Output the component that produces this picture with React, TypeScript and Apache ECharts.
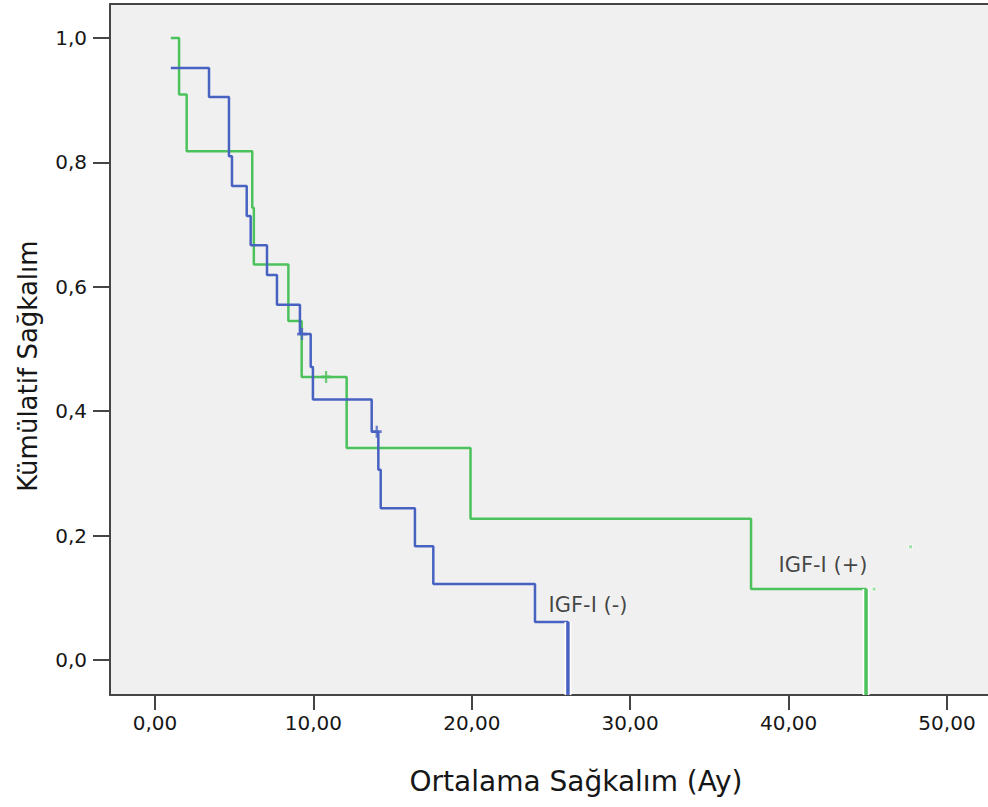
import React, { useEffect, useRef } from "react";
import * as echarts from "echarts";

// IGF-I (-) Kaplan-Meier curve: event times (months) and survival after each event
const blueTimes = [1.0, 3.41, 4.67, 4.86, 5.79, 6.04, 7.07, 7.7, 9.15, 9.83, 9.97, 13.68, 14.1, 14.25, 16.41, 17.57, 23.99, 26.07];
const blueSurv = [0.952, 0.905, 0.81, 0.762, 0.714, 0.667, 0.619, 0.571, 0.524, 0.471, 0.419, 0.367, 0.306, 0.244, 0.183, 0.122, 0.061, 0.0];
const blueCensorT = [9.28, 14.0];
const blueCensorS = [0.524, 0.367];

// IGF-I (+) curve
const greenTimes = [1.0, 1.52, 2.0, 6.14, 6.24, 8.42, 9.26, 12.1, 19.92, 37.63, 44.89];
const greenSurv = [1.0, 0.909, 0.818, 0.727, 0.636, 0.545, 0.455, 0.341, 0.227, 0.114, 0.0];
const greenCensorT = [10.8];
const greenCensorS = [0.455];
const greenDotsT = [45.4, 47.7];
const greenDotsS = [0.114, 0.182];

// curve labels
const labelTexts = ["IGF-I (-)", "IGF-I (+)"];
const labelT = [27.34, 42.17];
const labelS = [0.088, 0.153];

// ticks
const xTicks = [0, 10, 20, 30, 40, 50];
const yTicks = [0, 0.2, 0.4, 0.6, 0.8, 1.0];

const xTitle = "Ortalama Sağkalım (Ay)";
const yTitle = "Kümülatif Sağkalım";

const X_MIN = -2.841;
const X_MAX = 52.59;
const Y_MIN = -0.0563;
const Y_MAX = 1.0547;

const BLUE = "#4862c2";
const GREEN = "#4cc25c";
const AXIS = "#454545";
const TEXT = "#161616";
const FONT = "'DejaVu Sans', Verdana, sans-serif";

function stepData(times: number[], surv: number[]) {
  const d: number[][] = times.map((t, i) => [t, surv[i]]);
  // the final drop runs down to the bottom of the frame
  d[d.length - 1] = [times[times.length - 1], Y_MIN];
  return d;
}

function finalDrop(times: number[], surv: number[]) {
  const n = times.length;
  return [
    [times[n - 1], surv[n - 2]],
    [times[n - 1], Y_MIN],
  ];
}

const plus = "path://M5,0L5,12M0,6L10,6";

export default function App() {
  const ref = useRef<HTMLDivElement>(null);
  useEffect(() => {
    if (!ref.current) return;
    const chart = echarts.init(ref.current, null, { renderer: "svg" });
    const lineBase = { type: "line", showSymbol: false, symbol: "none", silent: true, z: 3 } as any;
    chart.setOption({
      animation: false,
      backgroundColor: "#ffffff",
      grid: {
        left: 110,
        top: 4,
        right: 0,
        bottom: 112,
        show: true,
        backgroundColor: "#f0f0f0",
        borderWidth: 0,
      },
      xAxis: [
        {
          type: "value",
          min: X_MIN,
          max: X_MAX,
          position: "bottom",
          splitLine: { show: false },
          axisLine: { show: true, onZero: false, lineStyle: { color: AXIS, width: 2 } },
          axisTick: { show: true, length: 15, customValues: xTicks, lineStyle: { color: AXIS, width: 2 } },
          axisLabel: {
            customValues: xTicks,
            margin: 18,
            fontFamily: FONT,
            fontSize: 20,
            color: TEXT,
            formatter: (v: number) => v.toFixed(2).replace(".", ","),
          },
        },
        {
          type: "value",
          min: X_MIN,
          max: X_MAX,
          position: "top",
          splitLine: { show: false },
          axisLine: { show: true, onZero: false, lineStyle: { color: AXIS, width: 2 } },
          axisTick: { show: false },
          axisLabel: { show: false },
        },
      ],
      yAxis: {
        type: "value",
        min: Y_MIN,
        max: Y_MAX,
        splitLine: { show: false },
        axisLine: { show: true, onZero: false, lineStyle: { color: AXIS, width: 2 } },
        axisTick: { show: true, length: 17, customValues: yTicks, lineStyle: { color: AXIS, width: 2 } },
        axisLabel: {
          customValues: yTicks,
          margin: 23,
          fontFamily: FONT,
          fontSize: 20,
          color: TEXT,
          formatter: (v: number) => v.toFixed(1).replace(".", ","),
        },
      },
      graphic: [
        {
          type: "text",
          x: 576,
          y: 781,
          style: {
            text: xTitle,
            font: `28px ${FONT}`,
            fill: TEXT,
            align: "center",
            verticalAlign: "middle",
          },
        },
        {
          type: "text",
          x: 28,
          y: 366,
          rotation: Math.PI / 2,
          style: {
            text: yTitle,
            font: `26px ${FONT}`,
            fill: TEXT,
            align: "center",
            verticalAlign: "middle",
          },
        },
      ],
      series: [
        { ...lineBase, step: "end", data: stepData(greenTimes, greenSurv), lineStyle: { color: GREEN, width: 2.5 } },
        { ...lineBase, step: "end", data: stepData(blueTimes, blueSurv), lineStyle: { color: BLUE, width: 2.5 } },
        { ...lineBase, z: 4, data: finalDrop(blueTimes, blueSurv), lineStyle: { color: "#ffffff", width: 7 } },
        { ...lineBase, z: 5, data: finalDrop(blueTimes, blueSurv), lineStyle: { color: BLUE, width: 3.5 } },
        { ...lineBase, z: 4, data: finalDrop(greenTimes, greenSurv), lineStyle: { color: "#ffffff", width: 7 } },
        { ...lineBase, z: 5, data: finalDrop(greenTimes, greenSurv), lineStyle: { color: GREEN, width: 3.5 } },
        {
          type: "scatter",
          silent: true,
          z: 6,
          symbol: plus,
          symbolSize: [10, 12],
          data: blueCensorT.map((t, i) => [t, blueCensorS[i]]),
          itemStyle: { color: "transparent", borderColor: BLUE, borderWidth: 2.5 },
        },
        {
          type: "scatter",
          silent: true,
          z: 6,
          symbol: plus,
          symbolSize: [10, 12],
          data: greenCensorT.map((t, i) => [t, greenCensorS[i]]),
          itemStyle: { color: "transparent", borderColor: GREEN, borderWidth: 2.5 },
        },
        {
          type: "scatter",
          silent: true,
          z: 6,
          symbol: "rect",
          symbolSize: 4,
          data: greenDotsT.map((t, i) => [t, greenDotsS[i]]),
          itemStyle: { color: "#8fdc98", borderColor: "#ffffff", borderWidth: 1 },
        },
        {
          type: "scatter",
          silent: true,
          z: 7,
          symbolSize: 0,
          data: labelTexts.map((s, i) => ({ value: [labelT[i], labelS[i]], name: s })),
          label: {
            show: true,
            position: "inside",
            formatter: (p: any) => p.name,
            fontFamily: FONT,
            fontSize: 21,
            color: TEXT,
          },
        },
      ],
    });
    return () => chart.dispose();
  }, []);
  return (
    <div
      ref={ref}
      style={{ position: "absolute", left: 0, top: 0, width: 988, height: 807 }}
    />
  );
}
